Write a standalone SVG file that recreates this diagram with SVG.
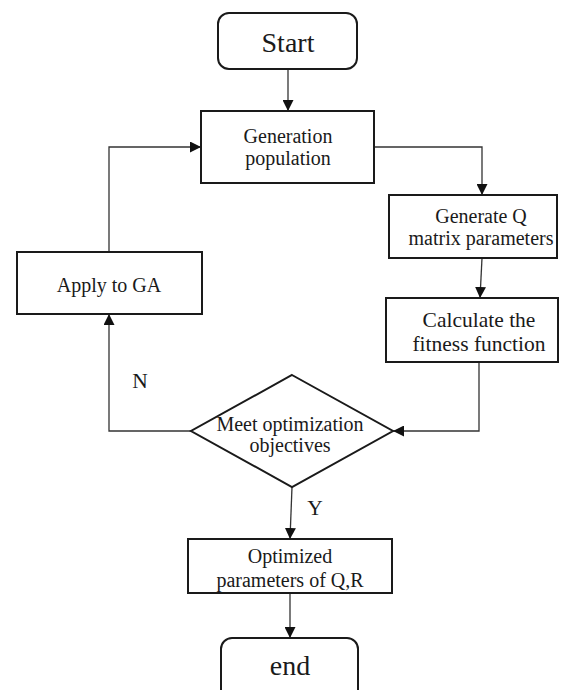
<svg xmlns="http://www.w3.org/2000/svg" width="563" height="690" viewBox="0 0 563 690">
<style>
.box{fill:#fff;stroke:#1a1a1a;stroke-width:2}
.ln{fill:none;stroke:#333;stroke-width:1.3}
text{font-family:"Liberation Serif","Times New Roman",serif;fill:#1a1a1a;text-anchor:middle}
.s{font-size:20px}
.m{font-size:21.5px}
.l{font-size:28px}
</style>
<defs>
<marker id="ah" viewBox="0 0 10 10" refX="10" refY="5" markerWidth="11" markerHeight="11" markerUnits="userSpaceOnUse" orient="auto">
<path d="M0,0 L10,5 L0,10 z" fill="#111"/>
</marker>
</defs>
<rect width="563" height="690" fill="#fff"/>
<g id="connectors">
<path class="ln" d="M288,69 L288,111" marker-end="url(#ah)"/>
<path class="ln" d="M374,147 L482,147 L482,195" marker-end="url(#ah)"/>
<path class="ln" d="M482,258 L480,298" marker-end="url(#ah)"/>
<path class="ln" d="M479,362 L479,431 L393,431" marker-end="url(#ah)"/>
<path class="ln" d="M191,431 L109,431 L109,314" marker-end="url(#ah)"/>
<path class="ln" d="M109,252 L109,147 L201,147" marker-end="url(#ah)"/>
<path class="ln" d="M292,487 L290,539" marker-end="url(#ah)"/>
<path class="ln" d="M290,593 L290,638" marker-end="url(#ah)"/>
<text class="m" x="140" y="388">N</text>
<text class="m" x="315" y="515">Y</text>
</g>
<g id="start">
<rect class="box" x="218" y="13" width="139" height="56" rx="11"/>
<text class="l" x="288" y="52">Start</text>
</g>
<g id="generation">
<rect class="box" x="201" y="111" width="173" height="72"/>
<text class="s" x="288" y="143">Generation</text>
<text class="s" x="288" y="165">population</text>
</g>
<g id="generateQ">
<rect class="box" x="389" y="195" width="168" height="63"/>
<text class="s" x="481" y="223">Generate Q</text>
<text class="s" x="481" y="245">matrix parameters</text>
</g>
<g id="calculate">
<rect class="box" x="386" y="298" width="172" height="64"/>
<text class="m" x="479" y="327">Calculate the</text>
<text class="m" x="479" y="351">fitness function</text>
</g>
<g id="apply">
<rect class="box" x="17" y="252" width="185" height="62"/>
<text class="s" x="109" y="292">Apply to GA</text>
</g>
<g id="decision">
<polygon class="box" points="292,375 393,431 292,487 191,431"/>
<text class="s" x="290" y="431">Meet optimization</text>
<text class="s" x="290" y="452">objectives</text>
</g>
<g id="optimized">
<rect class="box" x="188" y="539" width="204" height="54"/>
<text class="s" x="290" y="563">Optimized</text>
<text class="s" x="290" y="587">parameters of Q,R</text>
</g>
<g id="end">
<rect class="box" x="221" y="638" width="137" height="62" rx="11"/>
<text class="l" x="290" y="675">end</text>
</g>
</svg>
